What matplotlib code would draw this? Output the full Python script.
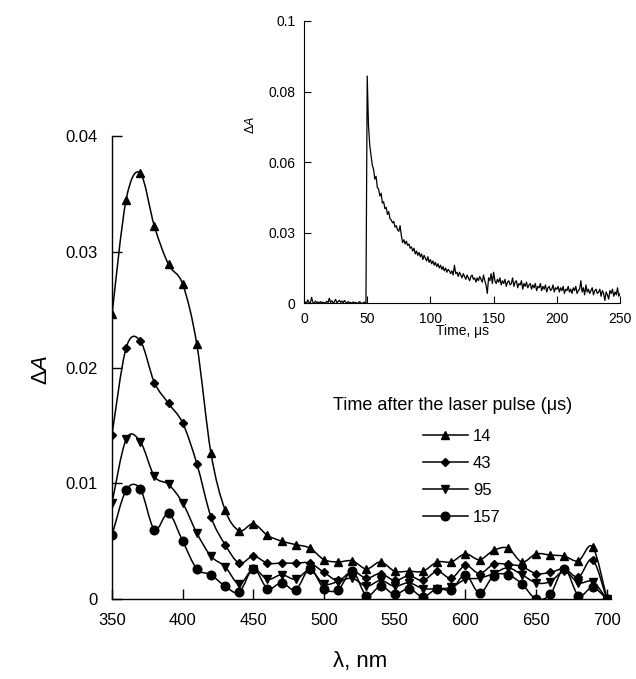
import numpy as np
import matplotlib
matplotlib.use('Agg')
import matplotlib.pyplot as plt
from matplotlib.path import Path
from matplotlib.patches import PathPatch
from matplotlib.lines import Line2D

plt.rcParams['font.family'] = ['Liberation Sans', 'DejaVu Sans']
plt.rcParams['mathtext.fontset'] = 'custom'
plt.rcParams['mathtext.rm'] = 'Liberation Sans'
plt.rcParams['mathtext.it'] = 'Liberation Sans:italic'

# ---------------- data: main spectra ----------------
wavelength_nm = list(range(350, 701, 10))

dA_14us = [0.0246, 0.0345, 0.0368, 0.0322, 0.0289, 0.0272, 0.0220, 0.0126, 0.0077, 0.0059,
           0.0065, 0.0055, 0.0050, 0.0047, 0.0044, 0.0034, 0.0032, 0.0033, 0.0026, 0.0032,
           0.0024, 0.0024, 0.0024, 0.0032, 0.0032, 0.0039, 0.0034, 0.0042, 0.0044, 0.0032,
           0.0039, 0.0038, 0.0037, 0.0033, 0.0045, 0.0001]
dA_43us = [0.0142, 0.0217, 0.0223, 0.0187, 0.0169, 0.0152, 0.0117, 0.0071, 0.0047, 0.0031,
           0.0037, 0.0031, 0.0031, 0.0031, 0.0031, 0.0023, 0.0016, 0.0024, 0.0018, 0.0022,
           0.0016, 0.0020, 0.0016, 0.0024, 0.0018, 0.0029, 0.0022, 0.0030, 0.0030, 0.0028,
           0.0022, 0.0023, 0.0026, 0.0019, 0.0034, 0.0000]
dA_95us = [0.0083, 0.0138, 0.0136, 0.0106, 0.0099, 0.0083, 0.0057, 0.0037, 0.0028, 0.0013,
           0.0026, 0.0017, 0.0021, 0.0017, 0.0025, 0.0013, 0.0015, 0.0018, 0.0011, 0.0016,
           0.0011, 0.0014, 0.0009, 0.0009, 0.0010, 0.0017, 0.0018, 0.0022, 0.0027, 0.0021,
           0.0014, 0.0015, 0.0024, 0.0014, 0.0015, 0.0000]
dA_157us = [0.0055, 0.0094, 0.0095, 0.0060, 0.0074, 0.0050, 0.0026, 0.0021, 0.0011, 0.0006,
            0.0026, 0.0009, 0.0014, 0.0008, 0.0026, 0.0009, 0.0008, 0.0024, 0.0003, 0.0011,
            0.0004, 0.0009, 0.0002, 0.0009, 0.0008, 0.0021, 0.0005, 0.0020, 0.0021, 0.0013,
            0.0000, 0.0004, 0.0026, 0.0003, 0.0010, 0.0000]

series_labels = ['14', '43', '95', '157']
legend_title = 'Time after the laser pulse (\u03bcs)'
main_xticks = [350, 400, 450, 500, 550, 600, 650, 700]
main_yticks = [0, 0.01, 0.02, 0.03, 0.04]
main_yticklabels = ['0', '0.01', '0.02', '0.03', '0.04']

# ---------------- data: inset kinetic trace (units of 1e-3) ----------------
inset_time_us = list(range(0, 251))
inset_dA_milli = [
    # 0-49 baseline
    0.2, 0.5, 0.0, 1.2, 0.3, 0.1, 2.1, 0.4, 0.0, 0.8,
    0.3, 0.5, 0.1, 0.6, 0.2, 0.4, 0.0, 0.3, 0.7, 0.2,
    1.8, 0.3, 0.9, 0.1, 0.5, 1.4, 0.2, 0.6, 1.1, 0.3,
    0.8, 0.2, 1.0, 0.4, 0.1, 0.6, 0.2, 0.3, 0.0, 0.5,
    0.1, 0.3, 0.0, 0.2, 0.6, 0.1, 0.0, 0.2, 0.4, 0.3,
    # 50-59
    80.5, 63.0, 56.0, 52.5, 49.0, 47.5, 44.0, 45.0, 41.0, 40.5,
    # 60-69
    38.0, 39.0, 35.5, 36.0, 33.5, 34.0, 31.5, 32.5, 30.0, 29.5,
    # 70-79
    28.5, 29.0, 27.0, 27.5, 26.0, 25.5, 27.5, 24.0, 21.5, 22.5,
    # 80-89
    21.0, 22.0, 20.5, 21.0, 19.5, 20.0, 18.5, 19.5, 17.5, 18.5,
    # 90-99
    17.0, 18.0, 16.5, 17.5, 15.5, 17.0, 16.0, 15.0, 16.5, 14.5,
    # 100-109
    15.5, 14.0, 15.0, 13.5, 14.5, 13.0, 14.0, 12.5, 13.5, 12.0,
    # 110-119
    13.0, 11.5, 12.5, 11.0, 12.0, 11.5, 10.5, 11.5, 10.0, 13.5,
    # 120-129
    10.5, 11.0, 9.5, 11.0, 10.0, 9.0, 10.5, 9.5, 8.5, 10.0,
    # 130-139
    9.0, 8.0, 9.5, 10.0, 8.5, 9.0, 7.5, 9.0, 8.0, 9.5,
    # 140-149
    8.5, 7.5, 10.0, 8.0, 6.5, 3.5, 9.0, 8.0, 10.5, 7.0,
    # 150-159
    11.0, 8.0, 7.0, 8.5, 7.5, 9.0, 6.5, 8.0, 7.0, 8.5,
    # 160-169
    6.0, 7.5, 8.0, 6.5, 7.0, 9.0, 6.0, 7.5, 8.0, 5.5,
    # 170-179
    7.0, 6.5, 8.0, 5.0, 7.0, 6.0, 7.5, 5.5, 6.5, 7.0,
    # 180-189
    5.0, 6.5, 5.5, 7.0, 4.5, 6.0, 5.5, 7.0, 4.5, 6.0,
    # 190-199
    5.0, 6.5, 4.0, 5.5, 6.0, 4.5, 5.0, 6.5, 4.0, 5.5,
    # 200-209
    5.0, 6.0, 4.0, 5.5, 4.5, 6.0, 3.5, 5.0, 4.5, 6.0,
    # 210-219
    4.0, 5.0, 3.5, 5.5, 4.5, 6.0, 3.5, 4.5, 5.0, 8.0,
    # 220-229
    4.0, 5.5, 3.0, 6.5, 4.0, 5.0, 3.5, 4.5, 5.5, 3.0,
    # 230-239
    4.5, 5.0, 3.5, 4.0, 5.0, 2.5, 4.5, 3.5, 1.0, 4.0,
    # 240-250
    3.0, 1.5, 4.5, 3.5, 5.0, 2.5, 4.0, 3.0, 5.5, 2.5, 3.5,
]
inset_xticks = [0, 50, 100, 150, 200, 250]
inset_yticks = [0, 0.025, 0.05, 0.075, 0.1]
inset_yticklabels = ['0', '0.03', '0.06', '0.08', '0.1']


def smooth_path(x, y):
    """Smoothed (Bezier, spreadsheet-style) path through the data points."""
    pts = np.column_stack([x, y]).astype(float)
    n = len(pts)
    verts = [pts[0]]
    codes = [Path.MOVETO]
    for i in range(n - 1):
        p0 = pts[i - 1] if i > 0 else pts[i]
        p1 = pts[i]
        p2 = pts[i + 1]
        p3 = pts[i + 2] if i + 2 < n else pts[i + 1]
        c1 = p1 + (p2 - p0) / 6.0
        c2 = p2 - (p3 - p1) / 6.0
        verts += [c1, c2, p2]
        codes += [Path.CURVE4] * 3
    return Path(verts, codes)


fig = plt.figure(figsize=(6.36, 6.79), dpi=100)

# ---------------- main axes ----------------
ax = fig.add_axes([0.1761, 0.1178, 0.7846, 0.6819])
series = [dA_14us, dA_43us, dA_95us, dA_157us]
markers = ['^', 'D', 'v', 'o']
msizes = [6.0, 4.2, 6.0, 6.2]
handles = []
for vals, m, ms, lab in zip(series, markers, msizes, series_labels):
    patch = PathPatch(smooth_path(wavelength_nm, vals), facecolor='none',
                      edgecolor='black', lw=1.1, transform=ax.transData)
    ax.add_patch(patch)
    ax.plot(wavelength_nm, vals, linestyle='none', marker=m, ms=ms,
            color='black', zorder=3)
    handles.append(Line2D([], [], color='black', lw=1.1, marker=m, ms=ms, label=lab))

ax.set_xlim(350, 703)
ax.set_ylim(0, 0.04)
ax.set_xticks(main_xticks)
ax.set_yticks(main_yticks)
ax.set_yticklabels(main_yticklabels)
for s in ['top', 'right']:
    ax.spines[s].set_visible(False)
for s in ['left', 'bottom']:
    ax.spines[s].set_linewidth(1.0)
ax.tick_params(direction='in', length=7, width=1.0, labelsize=12, pad=10)
ax.set_xlabel('\u03bb, nm', fontsize=16)
ax.set_ylabel('\u0394$\\mathit{A}$', fontsize=16)
ax.xaxis.set_label_coords(0.497, -0.112)
ax.yaxis.set_label_coords(-0.12, 0.495)

ax.text(0.443, 0.419, legend_title, transform=ax.transAxes, fontsize=13,
        ha='left', va='center')
leg = ax.legend(handles=handles, loc='upper left',
                bbox_to_anchor=(0.623, 0.367), frameon=False, fontsize=12,
                borderpad=0, borderaxespad=0,
                handlelength=2.7, handletextpad=0.3, labelspacing=0.72)

# ---------------- inset ----------------
axi = fig.add_axes([0.478, 0.5533, 0.4969, 0.4158])
axi.plot(inset_time_us, np.array(inset_dA_milli) * 1e-3, color='black', lw=0.9)
axi.set_xlim(0, 250)
axi.set_ylim(0, 0.1)
axi.set_xticks(inset_xticks)
axi.set_yticks(inset_yticks)
axi.set_yticklabels(inset_yticklabels)
for s in ['top', 'right']:
    axi.spines[s].set_visible(False)
for s in ['left', 'bottom']:
    axi.spines[s].set_linewidth(0.8)
axi.tick_params(direction='in', length=5, width=0.8, labelsize=10, pad=6)
axi.set_xlabel('Time, \u03bcs', fontsize=10)
axi.set_ylabel('\u0394$\\mathit{A}$', fontsize=9)
axi.xaxis.set_label_coords(0.503, -0.075)
axi.yaxis.set_label_coords(-0.15, 0.63)

fig.savefig('out.png', dpi=100)
